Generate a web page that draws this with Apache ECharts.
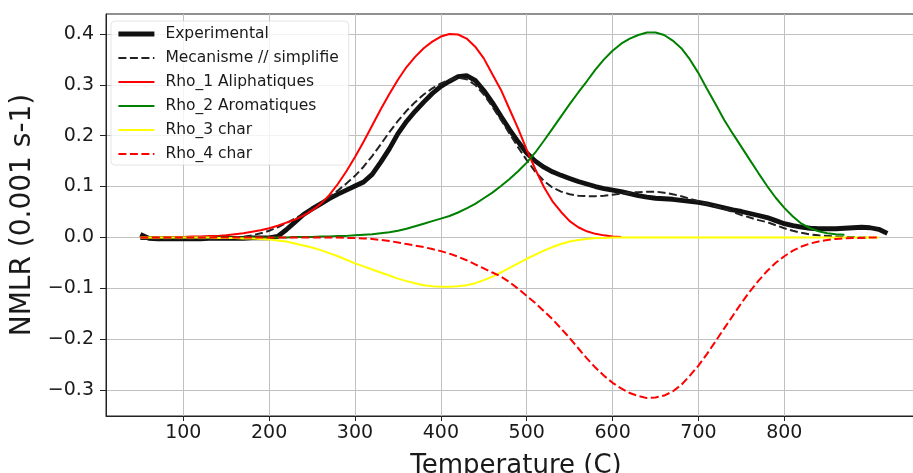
<!DOCTYPE html>
<html>
<head>
<meta charset="utf-8">
<script src="https://cdn.jsdelivr.net/npm/echarts@6/dist/echarts.min.js"></script>
<style>
html,body{margin:0;padding:0;background:#fff;}
#chart{width:913px;height:473px;}
</style>
</head>
<body>
<div id="chart"></div>
<script>
// Temperatures (C), common grid: 50 .. 920 step 10
const temps = [50,60,70,80,90,100,110,120,130,140,150,160,170,180,190,200,210,220,230,240,250,260,270,280,290,300,310,320,330,340,350,360,370,380,390,400,410,420,430,440,450,460,470,480,490,500,510,520,530,540,550,560,570,580,590,600,610,620,630,640,650,660,670,680,690,700,710,720,730,740,750,760,770,780,790,800,810,820,830,840,850,860,870,880,890,900,910,920];

const seriesNames = ['Experimental','Mecanisme // simplifie','Rho_1 Aliphatiques','Rho_2 Aromatiques','Rho_3 char','Rho_4 char'];

// Experimental (50..920)
const experimental = [0.006,-0.002,-0.003,-0.003,-0.003,-0.003,-0.003,-0.003,-0.002,-0.002,-0.002,-0.002,-0.002,-0.001,-0.001,-0.001,0.002,0.015,0.030,0.045,0.056,0.066,0.076,0.085,0.093,0.101,0.109,0.124,0.148,0.174,0.204,0.228,0.248,0.266,0.283,0.297,0.307,0.316,0.318,0.309,0.289,0.265,0.238,0.212,0.188,0.166,0.150,0.138,0.129,0.122,0.116,0.110,0.105,0.100,0.096,0.093,0.090,0.086,0.082,0.079,0.077,0.076,0.075,0.073,0.071,0.069,0.066,0.062,0.058,0.054,0.051,0.047,0.043,0.039,0.033,0.027,0.023,0.020,0.018,0.017,0.017,0.017,0.018,0.019,0.020,0.019,0.016,0.008];

// Mecanisme // simplifie (50..900)
const mecanisme = [-0.003,-0.003,-0.003,-0.003,-0.003,-0.003,-0.003,-0.003,-0.003,-0.003,-0.002,-0.001,0.001,0.004,0.008,0.013,0.020,0.028,0.037,0.046,0.056,0.067,0.079,0.092,0.106,0.121,0.139,0.160,0.183,0.207,0.229,0.249,0.266,0.281,0.293,0.303,0.310,0.314,0.311,0.300,0.281,0.257,0.231,0.204,0.177,0.152,0.129,0.111,0.098,0.090,0.085,0.082,0.081,0.081,0.082,0.084,0.086,0.088,0.089,0.090,0.090,0.088,0.085,0.081,0.076,0.071,0.066,0.061,0.056,0.050,0.044,0.039,0.034,0.030,0.024,0.018,0.013,0.009,0.006,0.004,0.003,0.002,0.001,0.001,0.000,0.000];

// Rho_1 Aliphatiques (50..610)
const rho1 = [0.000,0.000,0.000,0.001,0.001,0.001,0.002,0.002,0.003,0.003,0.004,0.006,0.008,0.011,0.014,0.018,0.023,0.029,0.035,0.043,0.053,0.066,0.083,0.105,0.130,0.158,0.188,0.220,0.252,0.282,0.310,0.335,0.355,0.372,0.385,0.395,0.400,0.399,0.391,0.375,0.352,0.321,0.290,0.252,0.214,0.172,0.134,0.099,0.071,0.050,0.032,0.020,0.012,0.007,0.004,0.002,0.001];

// Rho_2 Aromatiques (50..870)
const rho2 = [0.000,0.000,0.000,0.000,0.000,0.000,0.000,0.000,0.000,0.000,0.000,0.000,0.000,0.000,0.000,0.000,0.000,0.000,0.001,0.001,0.001,0.002,0.002,0.003,0.003,0.004,0.005,0.006,0.008,0.010,0.013,0.017,0.022,0.027,0.032,0.037,0.042,0.049,0.057,0.066,0.077,0.088,0.101,0.115,0.130,0.147,0.167,0.190,0.214,0.238,0.262,0.285,0.307,0.330,0.350,0.367,0.381,0.391,0.398,0.403,0.403,0.398,0.387,0.372,0.350,0.323,0.292,0.262,0.231,0.204,0.178,0.152,0.126,0.101,0.078,0.058,0.041,0.027,0.018,0.012,0.008,0.006,0.005];

// Rho_3 char (50..910)
const rho3 = [0.000,0.000,0.000,0.000,0.000,0.000,0.000,0.000,0.000,-0.001,-0.001,-0.001,-0.002,-0.002,-0.003,-0.004,-0.006,-0.008,-0.012,-0.016,-0.020,-0.025,-0.031,-0.037,-0.044,-0.051,-0.057,-0.063,-0.069,-0.075,-0.081,-0.086,-0.090,-0.094,-0.096,-0.097,-0.097,-0.096,-0.094,-0.090,-0.084,-0.077,-0.069,-0.060,-0.051,-0.042,-0.034,-0.026,-0.019,-0.013,-0.008,-0.005,-0.003,-0.001,-0.001,0.000,0.000,0.000,0.000,0.000,0.000,0.000,0.000,0.000,0.000,0.000,0.000,0.000,0.000,0.000,0.000,0.000,0.000,0.000,0.000,0.000,0.000,0.000,0.000,0.000,0.000,0.000,0.000,0.000,0.000,0.000,0.000];

// Rho_4 char (50..910)
const rho4 = [0.000,0.000,0.000,0.000,0.000,0.000,0.000,0.000,0.000,0.000,0.000,0.000,0.000,0.000,0.000,0.000,0.000,0.000,0.000,0.000,0.000,0.000,0.000,0.000,-0.001,-0.001,-0.002,-0.003,-0.005,-0.007,-0.010,-0.013,-0.016,-0.019,-0.023,-0.027,-0.032,-0.038,-0.045,-0.053,-0.061,-0.069,-0.077,-0.088,-0.101,-0.115,-0.129,-0.145,-0.161,-0.179,-0.198,-0.218,-0.238,-0.256,-0.272,-0.286,-0.297,-0.306,-0.312,-0.316,-0.315,-0.311,-0.303,-0.290,-0.272,-0.252,-0.229,-0.204,-0.179,-0.154,-0.129,-0.106,-0.085,-0.066,-0.050,-0.037,-0.026,-0.018,-0.012,-0.008,-0.005,-0.003,-0.002,-0.001,-0.001,0.000,0.000];

const xTicks = [100,200,300,400,500,600,700,800];
const yTicks = [-0.3,-0.2,-0.1,0.0,0.1,0.2,0.3,0.4];

function pairs(vals){ return vals.map((v,i)=>[temps[i], v]); }

const FONT = 'DejaVu Sans';
const chart = echarts.init(document.getElementById('chart'), null, {renderer:'canvas'});

const styles = [
  { color: '#111111', width: 4.8, dashed: false },
  { color: '#222222', width: 2, dashed: true },
  { color: '#ff0000', width: 2, dashed: false },
  { color: '#008000', width: 2, dashed: false },
  { color: '#ffff00', width: 2, dashed: false },
  { color: '#ff0000', width: 2, dashed: true }
];
const allValues = [experimental, mecanisme, rho1, rho2, rho3, rho4];

const series = allValues.map((vals, i) => ({
  name: seriesNames[i],
  type: 'line',
  data: pairs(vals),
  showSymbol: false,
  symbol: 'none',
  animation: false,
  lineStyle: { color: styles[i].color, width: styles[i].width, type: styles[i].dashed ? [8,3.5] : 'solid' },
  itemStyle: { color: styles[i].color }
}));

const legendData = seriesNames.map((n, i) => ({
  name: n,
  itemStyle: { opacity: 0 },
  lineStyle: { color: styles[i].color, width: styles[i].width, type: styles[i].dashed ? [8,3.5] : 'solid' }
}));

chart.setOption({
  animation: false,
  backgroundColor: '#ffffff',
  grid: { left: 106, top: 14, width: 820, height: 402, show: true, borderColor: '#222', borderWidth: 1, backgroundColor: 'transparent', outerBoundsMode: 'none', containLabel: false },
  legend: {
    orient: 'vertical', left: 111, top: 21,
    padding: [5, 10, 3, 5],
    itemWidth: 36, itemHeight: 14, itemGap: 8,
    backgroundColor: 'rgba(255,255,255,0.8)',
    borderColor: 'rgba(210,210,210,0.6)', borderWidth: 1, borderRadius: 4,
    itemStyle: { opacity: 0 },
    textStyle: { fontFamily: FONT, fontSize: 15.5, color: '#1a1a1a', lineHeight: 16, padding: [0,0,0,6] },
    data: legendData
  },
  xAxis: {
    type: 'value', min: 10, max: 965,
    name: 'Temperature (C)', nameLocation: 'middle', nameGap: 37,
    nameTextStyle: { fontFamily: FONT, fontSize: 26, color: '#1a1a1a' },
    axisLine: { show: true, onZero: false, lineStyle: { color: '#222', width: 1 } },
    axisTick: { show: true, inside: false, length: 5, customValues: xTicks, lineStyle: { color: '#222' } },
    axisLabel: { customValues: xTicks, margin: 8, fontFamily: FONT, fontSize: 19, color: '#1a1a1a', formatter: v => String(v) },
    splitLine: { show: true, lineStyle: { color: '#c0c0c0', width: 1 } }
  },
  yAxis: {
    type: 'value', min: -0.3512, max: 0.4393,
    name: 'NMLR (0.001 s-1)', nameLocation: 'middle', nameGap: 67, nameRotate: 90,
    nameTextStyle: { fontFamily: FONT, fontSize: 28, color: '#1a1a1a' },
    axisLine: { show: true, onZero: false, lineStyle: { color: '#222', width: 1 } },
    axisTick: { show: true, inside: false, length: 6, customValues: yTicks, lineStyle: { color: '#222' } },
    axisLabel: { customValues: yTicks, margin: 12, fontFamily: FONT, fontSize: 19, color: '#1a1a1a',
      formatter: v => { const s = Math.abs(v).toFixed(1); return v < -1e-9 ? '\u2212' + s : s; } },
    splitLine: { show: true, lineStyle: { color: '#c0c0c0', width: 1 } }
  },
  series: series
});
</script>
</body>
</html>
